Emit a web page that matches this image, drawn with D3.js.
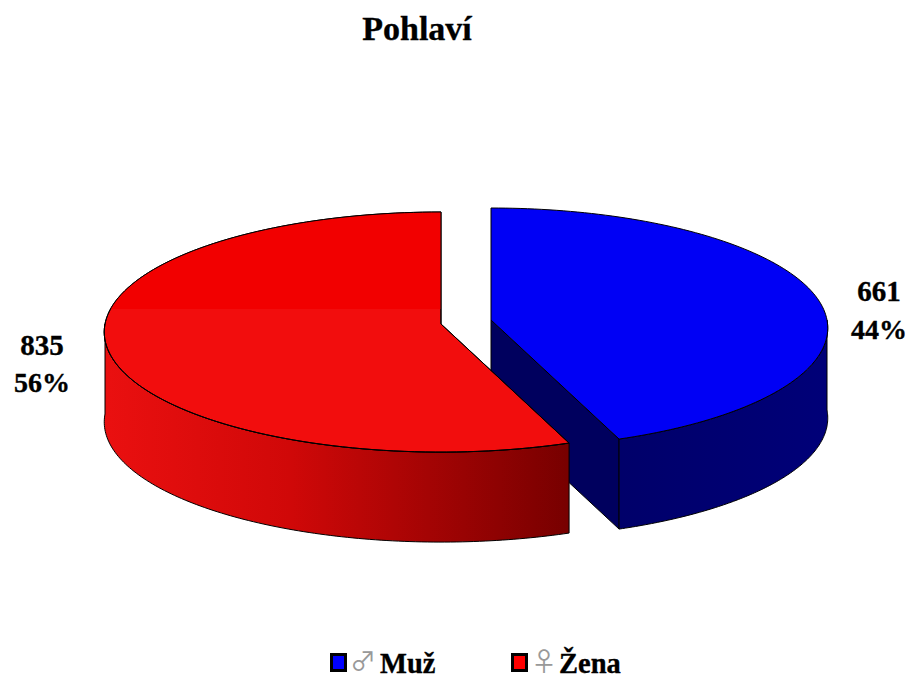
<!DOCTYPE html>
<html>
<head>
<meta charset="utf-8">
<script src="https://d3js.org/d3.v7.min.js"></script>
<style>
  html, body { margin: 0; padding: 0; background: #fff; }
  svg { display: block; }
  text { font-family: "Liberation Serif", serif; font-weight: bold; fill: #000; stroke: #000; stroke-width: 0.35px; }
</style>
</head>
<body>
<div id="chart"></div>
<script>
const categories = ['Muž', 'Žena'];
const symbols = ['♂', '♀'];
const counts = [661, 835];
const percents = ['44%', '56%'];
const title = 'Pohlaví';

const w = 912, h = 680;
const rx = 336, ry = 119.5, persp = 0.067, depth = 90;
const centers = [[491, 320], [441, 324]];

const svg = d3.select('#chart').append('svg')
  .attr('width', w)
  .attr('height', h)
  .attr('viewBox', `0 0 ${w} ${h}`);

const defs = svg.append('defs');
const topClip = defs.append('clipPath').attr('id', 'upper');
topClip.append('rect').attr('x', 0).attr('y', 0).attr('width', w).attr('height', 309);

// wall shading runs left to right across the whole pie
const redWall = defs.append('linearGradient').attr('id', 'redWall')
  .attr('gradientUnits', 'userSpaceOnUse')
  .attr('x1', 105).attr('x2', 567).attr('y1', 0).attr('y2', 0);
redWall.append('stop').attr('offset', 0).attr('stop-color', '#ea1010');
redWall.append('stop').attr('offset', 0.4).attr('stop-color', '#d00808');
redWall.append('stop').attr('offset', 1).attr('stop-color', '#780000');

const blueWall = defs.append('linearGradient').attr('id', 'blueWall')
  .attr('gradientUnits', 'userSpaceOnUse')
  .attr('x1', 622).attr('x2', 827).attr('y1', 0).attr('y2', 0);
blueWall.append('stop').attr('offset', 0).attr('stop-color', '#00006a');
blueWall.append('stop').attr('offset', 1).attr('stop-color', '#000078');

const pie = d3.pie().sort(null).value(d => d);
const slices = pie(counts);

// disc point seen in perspective, a = angle clockwise from the top
const project = (a, c, dz = 0) => {
  const k = 1 + persp * Math.cos(a);
  return [c[0] + rx * Math.sin(a) / k, c[1] - ry * Math.cos(a) / k + dz];
};
const arcAngles = (a0, a1) => d3.range(0, 121).map(i => a0 + (a1 - a0) * i / 120);
const line = d3.line();

const drawSlice = (s, i) => {
  const c = centers[i];
  const g = svg.append('g').attr('class', 'slice-' + i);
  const top = [c, ...arcAngles(s.startAngle, s.endAngle).map(a => project(a, c))];
  const strokeProps = sel => sel.attr('stroke', '#000').attr('stroke-width', 1).attr('stroke-linejoin', 'round');

  // outer wall, only the part facing the viewer
  const from = Math.max(s.startAngle, Math.PI / 2);
  const to = Math.min(s.endAngle, Math.PI * 3 / 2);
  const wallAngles = arcAngles(from, to);
  const wall = [...wallAngles.map(a => project(a, c)),
    ...wallAngles.slice().reverse().map(a => project(a, c, depth))];

  if (i === 0) {
    // cut face of the blue slice
    const p = project(s.endAngle, c);
    g.append('path')
      .attr('d', line([c, p, [p[0], p[1] + depth], [c[0], c[1] + depth]]) + 'Z')
      .attr('fill', '#00005e')
      .call(strokeProps);
  }
  g.append('path')
    .attr('d', line(wall) + 'Z')
    .attr('fill', i === 0 ? 'url(#blueWall)' : 'url(#redWall)')
    .call(strokeProps);
  g.append('path')
    .attr('d', line(top) + 'Z')
    .attr('fill', i === 0 ? '#0000f5' : '#f20d0d')
    .call(strokeProps);
  if (i === 1) {
    // back half of the red top is a shade purer
    g.append('path')
      .attr('d', line(top) + 'Z')
      .attr('fill', '#f20000')
      .attr('clip-path', 'url(#upper)');
    g.append('path')
      .attr('d', line(top) + 'Z')
      .attr('fill', 'none')
      .call(strokeProps);
  }
};
slices.forEach(drawSlice);

svg.append('text')
  .attr('x', 417).attr('y', 40)
  .attr('text-anchor', 'middle')
  .attr('font-size', 34)
  .text(title);

// value labels
const labelX = [879, 42];
const labelY = [[301, 339], [355, 392]];
counts.forEach((d, i) => {
  svg.append('text').attr('x', labelX[i]).attr('y', labelY[i][0])
    .attr('text-anchor', 'middle').attr('font-size', 29).text(d);
  svg.append('text').attr('x', labelX[i]).attr('y', labelY[i][1])
    .attr('text-anchor', 'middle').attr('font-size', 28).text(percents[i]);
});

// legend
const legendX = [330, 511];
const legendSymX = [350, 531];
const legendTextX = [380, 559];
const legendFill = ['#0000ff', '#ff0000'];
categories.forEach((d, i) => {
  svg.append('rect')
    .attr('x', legendX[i] + 1.5).attr('y', 654.5)
    .attr('width', 14).attr('height', 16)
    .attr('fill', legendFill[i])
    .attr('stroke', '#000').attr('stroke-width', 3);
  svg.append('text')
    .attr('x', legendSymX[i]).attr('y', 671)
    .attr('font-size', 26)
    .style('font-family', '"Noto Sans CJK JP"')
    .style('font-weight', 'normal')
    .style('fill', '#999')
    .style('stroke', 'none')
    .text(symbols[i]);
  svg.append('text')
    .attr('x', legendTextX[i]).attr('y', 673)
    .attr('font-size', 28.5)
    .text(d);
});
</script>
</body>
</html>
